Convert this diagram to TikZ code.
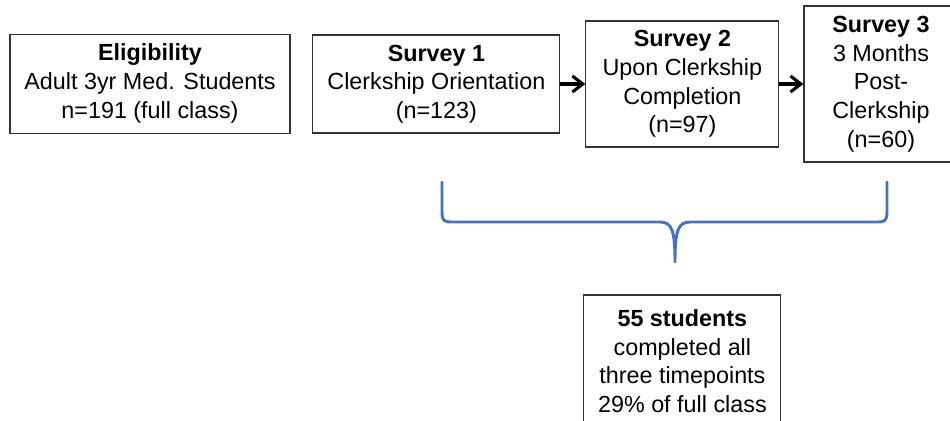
\documentclass[tikz,border=0pt]{standalone}
\usepackage{fontspec}
\setmainfont{Liberation Sans}
\usetikzlibrary{arrows.meta,positioning,calc}
\definecolor{braceblue}{RGB}{68,114,196}

\begin{document}
\begin{tikzpicture}[
  font=\fontsize{16.6}{20.4}\selectfont,
  box/.style={draw=black!80, line width=0.8pt, align=center, inner sep=0pt},
  a/.style={-{Straight Barb[length=2.6mm, width=4mm]}, line width=2.2pt},
  brc/.style={draw=braceblue, line width=2.1pt, line cap=round, line join=round}]

\useasboundingbox (0,0) rectangle (237.5mm,-105mm);

% =================== the survey chain ====================================
\node[box, minimum width=70mm, minimum height=24.75mm] (elig) at (37.5mm,-20.9mm)
  {\textbf{Eligibility}\\Adult 3yr Med. Students\\n=191 (full class)};
\node[box, minimum width=61.75mm, minimum height=24.5mm] (sone) at (109.1mm,-21mm)
  {\textbf{Survey 1}\\Clerkship Orientation\\(n=123)};
\node[box, minimum width=48.25mm, minimum height=31.5mm] (stwo) at (170.6mm,-21mm)
  {\textbf{Survey 2}\\Upon Clerkship\\Completion\\(n=97)};
\node[box, minimum width=38.5mm, minimum height=39mm] (sthree) at (220.25mm,-21mm)
  {\textbf{Survey 3}\\3 Months\\Post-\\Clerkship\\(n=60)};

\draw[a] (sone) -- (stwo);
\draw[a] (stwo) -- (sthree);

% =================== the brace over surveys 1 to 3 =======================
\coordinate (bl) at (110.5mm,-45.5mm);
\coordinate (br) at (221.75mm,-45.5mm);
\coordinate (bt) at (168.75mm,-65.5mm);
\draw[brc] (bl) -- ++(0,-7.5mm)
  .. controls +(0,-2.2mm) and +(-2mm,0) .. ++(2.5mm,-2.5mm)
  -- ($(bt)+(-3.8mm,10mm)$)
  .. controls +(3mm,0) and +(0,8mm) .. (bt)
  .. controls +(0,8mm) and +(-3mm,0) .. ($(bt)+(3.8mm,10mm)$)
  -- ($(br)+(-2.5mm,-10mm)$)
  .. controls +(2mm,0) and +(0,-2.2mm) .. ($(br)+(0,-7.5mm)$)
  -- (br);

% =================== the completers ======================================
\node[box, minimum width=49.25mm, minimum height=33mm] (done) at (170.6mm,-90.25mm)
  {\textbf{55 students}\\completed all\\three timepoints\\29\% of full class};
\end{tikzpicture}
\end{document}
